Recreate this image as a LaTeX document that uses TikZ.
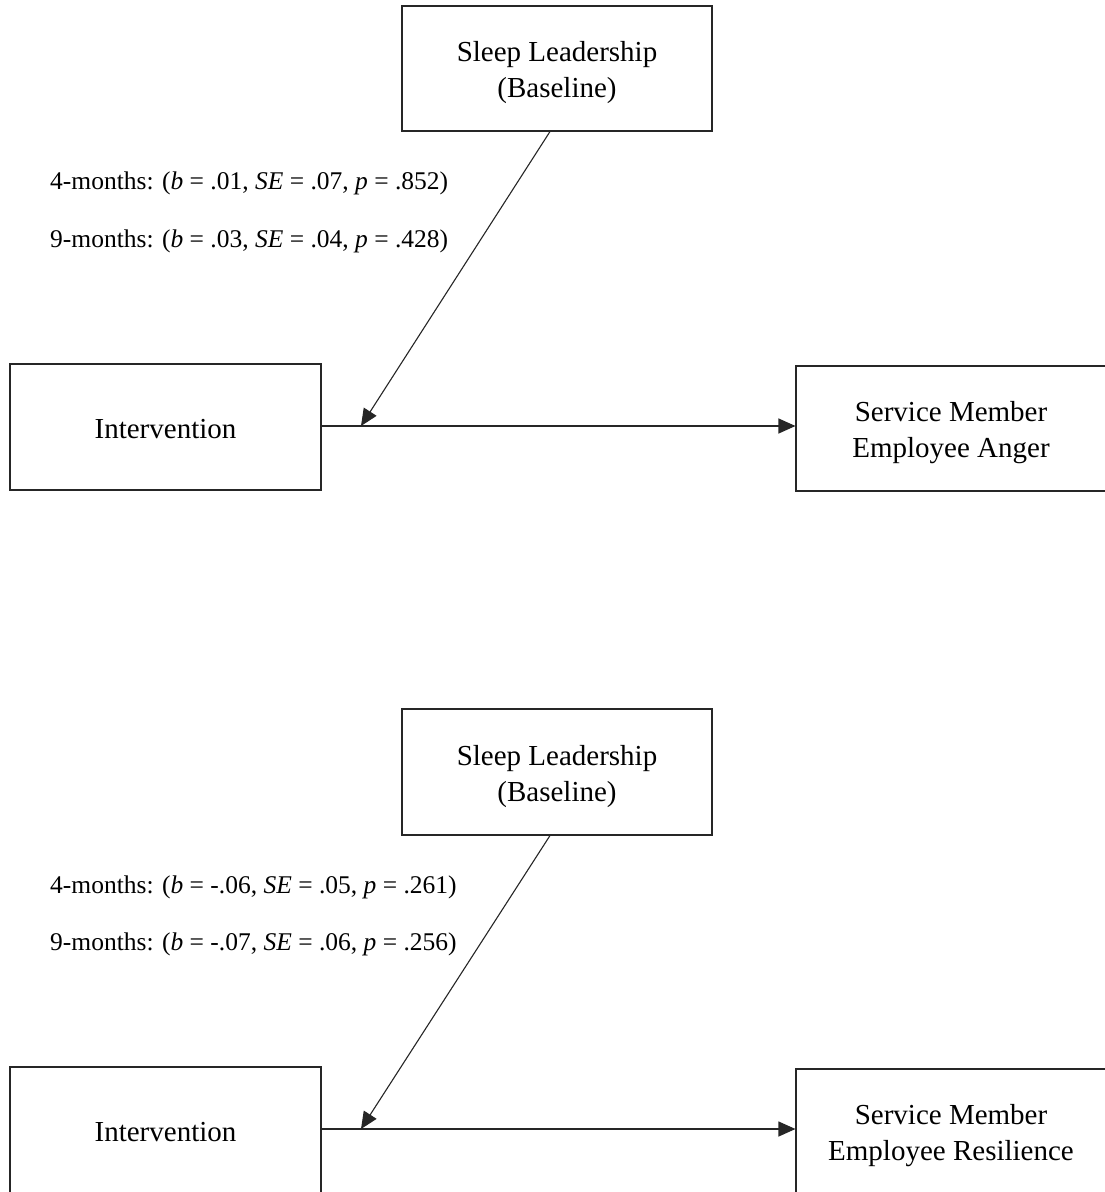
\documentclass[tikz,border=0pt]{standalone}
\usepackage{fontspec}
\setmainfont{Liberation Serif}
\usetikzlibrary{arrows.meta}

% centred multi-line box text, drawn a little below the box centre
\newcommand\boxtext[1]{\raisebox{-4pt}[\height][\depth]{\begin{tabular}{@{}c@{}}#1\end{tabular}}}

\begin{document}
\begin{tikzpicture}[x=1pt, y=-1pt,
  box/.style={draw=black!85, line width=1.1pt, rectangle,
    inner sep=0pt, font=\fontsize{29}{36}\selectfont},
  coef/.style={anchor=west, inner sep=0pt, font=\fontsize{25.5}{30}\selectfont},
  arr/.style={draw=black!85, line width=1.1pt,
    -{Triangle[length=17pt, width=15pt]}}]

% page frame and clipping window
\fill[white] (0,0) rectangle (1105,1192);
\clip (0,0) rectangle (1105,1192);

% ---------- moderation model: anger ----------
\node[box, minimum width=310pt, minimum height=125pt] (sl1) at (557,68.5)
  {\boxtext{Sleep Leadership\\(Baseline)}};
\node[box, minimum width=311pt, minimum height=126pt] (int1) at (165.5,427)
  {\boxtext{Intervention}};
\node[box, minimum width=310pt, minimum height=125pt] (out1) at (951,428.5)
  {\boxtext{Service Member\\Employee Anger}};

\node[coef] (c1a) at (50,183)
  {4-months: (\textit{b} = .01, \textit{SE} = .07, \textit{p} = .852)};
\node[coef] (c1b) at (50,241)
  {9-months: (\textit{b} = .03, \textit{SE} = .04, \textit{p} = .428)};

\coordinate (m1) at (361,426);
\draw[arr] (int1.east |- m1) -- (m1 -| out1.west);
\draw[arr] ([xshift=-7pt]sl1.south) -- (m1);

% ---------- moderation model: resilience ----------
\node[box, minimum width=310pt, minimum height=126pt] (sl2) at (557,772)
  {\boxtext{Sleep Leadership\\(Baseline)}};
\node[box, minimum width=311pt, minimum height=126pt] (int2) at (165.5,1130)
  {\boxtext{Intervention}};
\node[box, minimum width=310pt, minimum height=125pt] (out2) at (951,1131.5)
  {\boxtext{Service Member\\Employee Resilience}};

\node[coef] (c2a) at (50,887)
  {4-months: (\textit{b} = -.06, \textit{SE} = .05, \textit{p} = .261)};
\node[coef] (c2b) at (50,944)
  {9-months: (\textit{b} = -.07, \textit{SE} = .06, \textit{p} = .256)};

\coordinate (m2) at (361,1129);
\draw[arr] (int2.east |- m2) -- (m2 -| out2.west);
\draw[arr] ([xshift=-7pt]sl2.south) -- (m2);
\end{tikzpicture}
\end{document}
